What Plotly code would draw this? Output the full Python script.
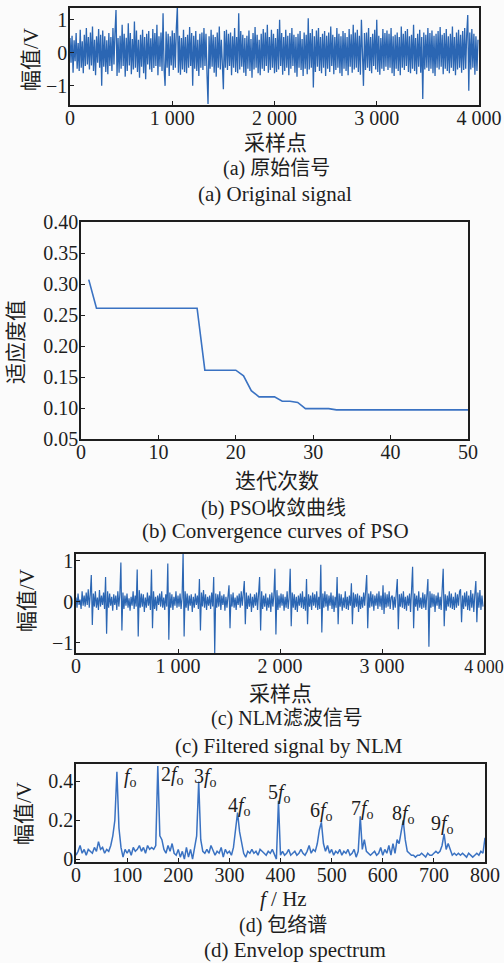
import numpy as np
import plotly.graph_objects as go

W, H = 504, 963

# ---------------- data ----------------
# (a) original signal, values in 0.01 V, one value every 10 samples
sig_a_centi = [
    45, -30, 52, -60, 38, -25, 60, -48, 30, -55,
    70, -45, 35, -62, 55, -40, 75, -35, 48, -50,
    62, -38, 80, -55, 40, -68, 50, -30, 72, -45,
    55, -100, 68, -42, 50, -58, 38, -65, 60, -40,
    48, -55, 75, -35, 62, 130, -70, 45, -60, 52,
    -48, 85, -40, 58, -72, 46, -55, 90, -38, 60,
    -65, 42, -50, 95, -45, 68, -58, 40, -75, 55,
    -42, 70, -62, 48, -80, 58, -35, 66, -50, 44,
    -58, 72, -46, 60, -40, 85, -68, 50, -42, 62,
    -55, 120, -48, -100, 65, -45, 58, -70, 50, -38,
    68, -52, 60, -45, 75, 140, -60, 52, -66, 45,
    -50, 70, -58, 48, -62, 55, -45, 78, -40, 60,
    -100, 52, -48, 66, -55, 40, -70, 58, -45, 62,
    -52, 75, -40, 58, -65, -155, 50, -48, 70, -42,
    55, -60, 48, -72, 62, -45, 80, -50, 40, -58,
    -110, 66, -45, 70, -52, 58, -40, 62, -68, 50,
    -45, 75, -58, 48, -62, 120, -50, 66, -42, 55,
    -60, 45, -70, 52, -48, 68, -55, 42, -75, 60,
    -50, 78, -45, 55, -62, 40, -68, 58, -48, 72,
    -55, 62, -40, 85, -60, 48, -52, 70, -45, 58,
    -62, 45, -58, 72, -50, 100, -40, 60, -66, 48,
    -55, 70, -45, 52, -68, 60, -48, 75, -40, 55,
    -60, 48, -72, 58, -45, 66, -52, 42, -70, 62,
    -48, 55, -65, 105, -50, 60, -45, 72, -105, 50,
    -58, 68, -42, 75, -55, 48, -62, 58, -45, 66,
    -70, 52, -48, 62, -58, 80, -40, 55, -65, 48,
    -52, 75, -45, 58, -62, 50, -70, 66, -48, 60,
    -55, 48, -68, 72, -42, 56, -60, 85, -50, 62,
    -45, 70, -58, 52, -66, 100, -48, -100, 60, -52,
    62, -45, 75, -55, 48, -62, 58, -40, 70, -50,
    100, -58, 52, -66, 45, -48, 72, -55, 60, -42,
    68, -52, 58, -45, 75, -62, 50, -70, 55, -48,
    62, -55, 48, -68, 80, -45, 58, -52, 66, -40,
    72, -58, 50, -62, 55, -48, 85, -55, 45, -65,
    58, -42, 70, -60, 48, -140, 62, -50, 55, -45,
    75, -55, 60, -48, 68, -62, 52, -70, 58, -45,
    66, -50, 78, -42, 55, -65, 60, -48, 72, -55,
    50, -62, 58, -45, 80, -55, 48, -68, 62, -50,
    70, -45, 55, -60, 66, -52, 75, -48, 58, 115,
    -115, 62, -50, 72, -45, 58, -66, 50, -55, 40,
]

# (b) PSO convergence curve
pso_iter = list(range(1, 51))
pso_fitness = ([0.307] + [0.261] * 14 + [0.161] * 5 +
               [0.152, 0.128, 0.118, 0.118, 0.118, 0.111, 0.111, 0.109,
                0.099, 0.099, 0.099, 0.099] + [0.097] * 18)

# (c) NLM filtered signal, values in 0.01 V, one value every 10 samples
sig_c_centi = [
    10, -15, 20, -8, 5, -18, 25, -10, 15, -12,
    22, -8, 30, -15, 18, 65, -57, 20, -12, 25,
    -15, 10, -20, 28, -12, 15, -8, 22, -18, 60,
    -78, 25, -15, 20, -10, 12, -22, 18, -8, 15,
    -20, 25, -12, 18, 95, -70, 22, -18, 15, -10,
    20, -15, 8, -22, 12, -10, 25, -18, 15, -12,
    78, -85, 28, -15, 20, -12, 18, -25, 10, -15,
    22, -10, 15, -20, 78, -65, 25, -18, 12, -22,
    15, -8, 20, -12, 25, -15, 10, -20, 18, -12,
    93, -93, 22, -15, 18, -20, 12, -10, 25, -15,
    15, -12, 20, -18, 10, 120, -85, 25, -15, 20,
    -22, 15, -10, 18, -25, 12, -15, 20, -8, 15,
    -18, 55, -70, 22, -12, 28, -15, 18, -20, 12,
    -10, 15, -18, 22, -12, 60, -125, 20, -15, 18,
    -12, 25, -20, 15, -8, 18, -22, 12, -15, 20,
    40, -65, 18, -12, 22, -15, 10, -20, 15, -8,
    20, -15, 25, -10, 18, 50, -55, 22, -18, 15,
    -12, 20, -25, 12, -15, 18, -10, 22, -20, 15,
    60, -70, 25, -18, 15, -12, 20, -22, 10, -15,
    18, -25, 22, -12, 15, 80, -80, 28, -20, 15,
    -15, 20, -10, 18, -22, 12, -15, 25, -18, 10,
    80, -60, 22, -15, 18, -20, 12, -25, 15, -10,
    20, -15, 25, -18, 12, -22, 55, -55, 18, -12,
    15, -20, 22, -10, 18, -15, 25, -20, 12, -18,
    90, -75, 20, -15, 25, -12, 18, -22, 15, -10,
    22, -18, 15, -25, 12, -15, 60, -55, 20, -12,
    18, -22, 10, -15, 25, -18, 12, -20, 15, -10,
    45, -55, 22, -15, 18, -12, 20, -25, 15, -18,
    12, -15, 22, -10, 18, 65, -65, 20, -15, 25,
    -12, 18, -22, 15, -10, 20, -18, 25, -12, 15,
    -20, 40, -30, 22, -15, 18, -12, 25, -18, 10,
    15, -20, 12, -15, 22, 55, -67, 18, -12, 20,
    -15, 25, -18, 12, -22, 15, -10, 20, -25, 18,
    85, -65, 20, -12, 15, -22, 25, -15, 10, -18,
    22, -15, 18, -20, 12, 55, -110, 25, -15, 20,
    -12, 18, -25, 15, -10, 22, -18, 12, -20, 25,
    80, -60, 18, -22, 15, -12, 25, -15, 20, -18,
    12, -20, 22, -15, 18, -10, 25, 30, -50, 15,
    -18, 22, -12, 25, -20, 15, -22, 28, -15, 20,
    -25, 18, 50, -50, 22, -15, 28, -20, 15, -12,
]

# (d) envelope spectrum, values in 0.01 V, one value every 4 Hz (0..800 Hz)
spec_centi = [
    2, 4, 7, 3, 5, 2, 5, 4, 3, 6,
    4, 9, 5, 6, 3, 5, 4, 7, 12, 20,
    45, 16, 6, 1, 5, 3, 5, 2, 6, 4,
    5, 7, 4, 6, 3, 7, 5, 6, 5, 7,
    48, 12, 10, 5, 3, 7, 4, 8, 3, 2,
    5, 1, 4, 0, 6, 1, 5, 0, 7, 12,
    40, 10, 4, 3, 5, 3, 7, 4, 2, 4,
    3, 6, 1, 5, 3, 4, 2, 6, 16, 24,
    14, 8, 3, 1, 4, 3, 5, 3, 4, 2,
    5, 4, 3, 2, 4, 3, 5, 2, 0, 30,
    2, 4, 2, 3, 5, 2, 3, 4, 2, 3,
    5, 3, 2, 4, 7, 3, 5, 4, 8, 15,
    19, 8, 4, 7, 3, 5, 2, 4, 3, 5,
    2, 4, 3, 5, 2, 3, 5, 1, 4, 22,
    5, 10, 4, 3, 2, 3, 4, 2, 3, 6,
    2, 5, 3, 7, 2, 8, 3, 10, 8, 14,
    20, 10, 4, 3, 2, 2, 1, 2, 2, 3,
    2, 1, 3, 2, 2, 3, 4, 3, 4, 7,
    13, 5, 8, 5, 2, 3, 2, 3, 2, 3,
    2, 1, 3, 2, 1, 2, 3, 2, 4, 3,
    11,
]

harm_labels = ["<i>f</i><sub>o</sub>", "2<i>f</i><sub>o</sub>", "3<i>f</i><sub>o</sub>",
               "4<i>f</i><sub>o</sub>", "5<i>f</i><sub>o</sub>", "6<i>f</i><sub>o</sub>",
               "7<i>f</i><sub>o</sub>", "8<i>f</i><sub>o</sub>", "9<i>f</i><sub>o</sub>"]
harm_label_x = [106, 188, 254, 319, 399, 481, 561, 641, 716]
harm_label_y = [0.42, 0.43, 0.42, 0.27, 0.34, 0.245, 0.255, 0.23, 0.18]

sample_ticks = [0, 1000, 2000, 3000, 4000]
sample_ticktext = ["0", "1 000", "2 000", "3 000", "4 000"]
sample_ticktext_c = ["0", "1 000", "2 000", "3 000",
                     "<span style='font-size:18px'>4\u2009000</span>"]

sig_a = np.array(sig_a_centi) / 100.0
sig_c = np.array(sig_c_centi) / 100.0
spec = np.array(spec_centi) / 100.0
samples = np.arange(len(sig_a)) * 10
freqs = np.arange(len(spec)) * 4

# ---------------- layout helpers ----------------
def xdom(l, r):
    return [l / W, r / W]

def ydom(t, b):
    return [1 - b / H, 1 - t / H]

SERIF = "'Liberation Serif', 'DejaVu Serif', serif"
CJK = "'Liberation Serif', 'Noto Sans CJK SC', serif"
BLUE = "#2b66b3"
LINE = "#3a72c2"
INK = "#1e1e1e"

fig = go.Figure()
fig.add_trace(go.Scatter(x=samples, y=sig_a, mode="lines", line=dict(color=BLUE, width=1.3),
                         xaxis="x", yaxis="y", showlegend=False))
fig.add_trace(go.Scatter(x=pso_iter, y=pso_fitness, mode="lines", line=dict(color=LINE, width=1.6),
                         xaxis="x2", yaxis="y2", showlegend=False))
fig.add_trace(go.Scatter(x=samples, y=sig_c, mode="lines", line=dict(color=BLUE, width=1.2),
                         xaxis="x3", yaxis="y3", showlegend=False))
fig.add_trace(go.Scatter(x=freqs, y=spec, mode="lines", line=dict(color=LINE, width=1.5),
                         xaxis="x4", yaxis="y4", showlegend=False))

tickfont = dict(family=SERIF, size=20, color=INK)
axis_common = dict(showgrid=False, zeroline=False, showline=True, linecolor=INK, linewidth=1.5,
                   mirror=True, ticks="inside", ticklen=4, tickcolor=INK, tickwidth=1.2,
                   tickfont=tickfont, automargin=False, ticklabeloverflow="allow")
xcommon = dict(axis_common, ticklabelstandoff=-6)
ycommon = dict(axis_common, ticklabelstandoff=-3)

fig.update_layout(
    width=W, height=H, margin=dict(l=0, r=0, t=0, b=0, pad=0),
    paper_bgcolor="#fbfbfb", plot_bgcolor="#fbfbfb",
    xaxis=dict(domain=xdom(70, 479), range=[0, 4000], anchor="y",
               tickvals=sample_ticks, ticktext=sample_ticktext, **xcommon),
    yaxis=dict(domain=ydom(8, 105), range=[-1.58, 1.36], anchor="x",
               tickvals=[-1, 0, 1], ticktext=["\u22121", "0", "1"], **ycommon),
    xaxis2=dict(domain=xdom(81, 468), range=[0, 50], anchor="y2",
                tickvals=[0, 10, 20, 30, 40, 50], **xcommon),
    yaxis2=dict(domain=ydom(222, 439), range=[0.05, 0.40], anchor="x2",
                tickvals=[0.05, 0.10, 0.15, 0.20, 0.25, 0.30, 0.35, 0.40], tickformat=".2f",
                **ycommon),
    xaxis3=dict(domain=xdom(76, 484), range=[0, 4000], anchor="y3",
                tickvals=sample_ticks, ticktext=sample_ticktext_c, **xcommon),
    yaxis3=dict(domain=ydom(554, 653), range=[-1.25, 1.16], anchor="x3",
                tickvals=[-1, 0, 1], ticktext=["\u22121", "0", "1"], **ycommon),
    xaxis4=dict(domain=xdom(76, 485), range=[0, 800], anchor="y4",
                tickvals=[0, 100, 200, 300, 400, 500, 600, 700, 800], **xcommon),
    yaxis4=dict(domain=ydom(764, 862), range=[-0.015, 0.49], anchor="x4",
                tickvals=[0, 0.2, 0.4], ticktext=["0", "0.2", "0.4"], **ycommon),
)

annotations = []

def paper_text(text, x, y, size=21, angle=0, family=CJK):
    annotations.append(dict(text=text, x=x / W, y=1 - y / H, xref="paper", yref="paper",
                            xanchor="center", yanchor="middle", showarrow=False,
                            textangle=angle, font=dict(family=family, size=size, color=INK)))

# panel (a)
paper_text("幅值/V", 31, 60, size=21, angle=-90)
paper_text("采样点", 275, 143, size=21)
paper_text("(a) 原始信号", 276, 168, size=20)
paper_text("(a) Original signal", 275, 194, size=21, family=SERIF)
# panel (b)
paper_text("适应度值", 16, 342, size=21, angle=-90)
paper_text("迭代次数", 277, 481, size=21)
paper_text("(b) PSO收敛曲线", 273, 508, size=20)
paper_text("(b) Convergence curves of PSO", 275, 531, size=21, family=SERIF)
# panel (c)
paper_text("幅值/V", 27, 601, size=21, angle=-90)
paper_text("采样点", 280, 694, size=21)
paper_text("(c) NLM滤波信号", 287, 718, size=20)
paper_text("(c) Filtered signal by NLM", 289, 746, size=21, family=SERIF)
# panel (d)
paper_text("幅值/V", 24, 814, size=21, angle=-90)
paper_text("<i>f</i> / Hz", 283, 899, size=21, family=SERIF)
paper_text("(d) 包络谱", 283, 925, size=20)
paper_text("(d) Envelop spectrum", 295, 950, size=21, family=SERIF)

for t, hx, hy in zip(harm_labels, harm_label_x, harm_label_y):
    annotations.append(dict(text=t, x=hx, y=hy, xref="x4", yref="y4", showarrow=False,
                            xanchor="center", yanchor="middle",
                            font=dict(family=SERIF, size=20, color=INK)))

fig.update_layout(annotations=annotations)
fig.write_html("out.html", config={"displayModeBar": False},
               post_script="document.body.style.margin='0';document.body.style.overflow='hidden';")
